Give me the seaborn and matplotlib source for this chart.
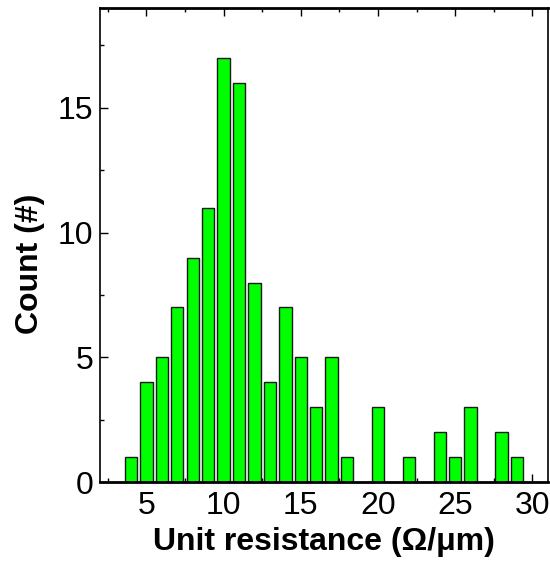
import matplotlib
matplotlib.use("Agg")
import matplotlib.pyplot as plt
import seaborn as sns
import pandas as pd
from matplotlib.ticker import MultipleLocator

resistance = [4, 5, 6, 7, 8, 9, 10, 11, 12, 13, 14, 15, 16, 17, 18, 20, 22, 24, 25, 26, 28, 29]
counts = [1, 4, 5, 7, 9, 11, 17, 16, 8, 4, 7, 5, 3, 5, 1, 3, 1, 2, 1, 3, 2, 1]

sns.set_style("ticks")
plt.rcParams['font.family'] = ['Liberation Sans', 'DejaVu Sans']
plt.rcParams['text.color'] = 'black'
plt.rcParams['axes.labelcolor'] = 'black'
plt.rcParams['xtick.color'] = 'black'
plt.rcParams['ytick.color'] = 'black'
plt.rcParams['axes.edgecolor'] = 'black'

df = pd.DataFrame({"res": resistance, "count": counts})

fig = plt.figure(figsize=(5.5, 5.72), dpi=100)
ax = fig.add_axes([0.182, 0.157, 0.814, 0.829])

sns.barplot(data=df, x="res", y="count", native_scale=True, color="#00ff00",
            saturation=1, width=0.8, edgecolor="#1a1a1a", linewidth=1.0, ax=ax)

ax.set_xlim(2, 31)
ax.set_ylim(0, 19)
ax.xaxis.set_major_locator(MultipleLocator(5))
ax.xaxis.set_minor_locator(MultipleLocator(2.5))
ax.yaxis.set_major_locator(MultipleLocator(5))
ax.yaxis.set_minor_locator(MultipleLocator(2.5))
ax.tick_params(which="both", direction="in", top=True, right=False, labelsize=23)
ax.tick_params(axis="x", pad=6)
ax.tick_params(axis="y", pad=5)
ax.tick_params(which="major", length=6, width=1)
ax.tick_params(which="minor", length=3, width=1)

for s in ["bottom", "top"]:
    ax.spines[s].set_linewidth(2)
for s in ["left", "right"]:
    ax.spines[s].set_linewidth(1.2)

ax.set_xlabel("Unit resistance (Ω/μm)", fontsize=23, fontweight="bold", labelpad=5)
ax.set_ylabel("Count (#)", fontsize=23, fontweight="bold", labelpad=9)
ax.yaxis.label.set_y(0.46)

fig.savefig("out.png", dpi=100)
